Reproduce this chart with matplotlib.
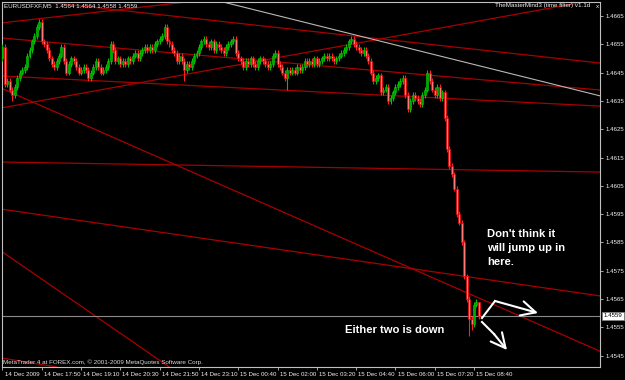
import numpy as np
import matplotlib.pyplot as plt
from matplotlib.patches import FancyArrowPatch
from matplotlib.transforms import ScaledTranslation, blended_transform_factory

# ---- data (EURUSD M5, 14-15 Dec 2009) ----
closes = [
    1.4654, 1.4641, 1.4642, 1.4639, 1.4637, 1.4640, 1.4643, 1.4645, 1.4646, 1.4647,
    1.4651, 1.4653, 1.4656, 1.4658, 1.4661, 1.4663, 1.4656, 1.4655, 1.4653, 1.4650,
    1.4648, 1.4647, 1.4649, 1.4651, 1.4654, 1.4649, 1.4645, 1.4648, 1.4650, 1.4649,
    1.4647, 1.4645, 1.4646, 1.4647, 1.4646, 1.4643, 1.4645, 1.4647, 1.4649, 1.4647,
    1.4645, 1.4646, 1.4647, 1.4649, 1.4655, 1.4653, 1.4649, 1.4650, 1.4648, 1.4649,
    1.4648, 1.4650, 1.4649, 1.4651, 1.4652, 1.4650, 1.4652, 1.4653, 1.4654, 1.4653,
    1.4654, 1.4653, 1.4655, 1.4656, 1.4657, 1.4658, 1.4661, 1.4656, 1.4655, 1.4653,
    1.4652, 1.4649, 1.4651, 1.4649, 1.4646, 1.4648, 1.4647, 1.4649, 1.4651, 1.4652,
    1.4654, 1.4656, 1.4657, 1.4655, 1.4654, 1.4656, 1.4653, 1.4655, 1.4654, 1.4653,
    1.4652, 1.4654, 1.4655, 1.4656, 1.4657, 1.4652, 1.4650, 1.4649, 1.4647, 1.4649,
    1.4648, 1.4650, 1.4648, 1.4647, 1.4649, 1.4650, 1.4649, 1.4648, 1.4647, 1.4648,
    1.4651, 1.4652, 1.4648, 1.4647, 1.4645, 1.4643, 1.4646, 1.4645, 1.4646, 1.4645,
    1.4647, 1.4646, 1.4647, 1.4649, 1.4648, 1.4649, 1.4648, 1.4650, 1.4648, 1.4649,
    1.4650, 1.4651, 1.4650, 1.4651, 1.4650, 1.4649, 1.4650, 1.4651, 1.4652, 1.4653,
    1.4654, 1.4656, 1.4657, 1.4655, 1.4654, 1.4653, 1.4652, 1.4653, 1.4651, 1.4649,
    1.4645, 1.4642, 1.4643, 1.4644, 1.4638, 1.4639, 1.4640, 1.4635, 1.4636, 1.4638,
    1.4640, 1.4641, 1.4642, 1.4643, 1.4637, 1.4632, 1.4635, 1.4637, 1.4636, 1.4635,
    1.4634, 1.4637, 1.4639, 1.4645, 1.4642, 1.4639, 1.4637, 1.4640, 1.4636, 1.4638,
    1.4629, 1.4618, 1.4612, 1.4609, 1.4604, 1.4595, 1.4592, 1.4585, 1.4573, 1.4565,
    1.4558, 1.4556, 1.4563, 1.4564, 1.4559,
]
first_open = 1.4650

# wick extremes that stand out on the chart (bar index -> price)
wick_hi = {15: 1.4664, 25: 1.4655, 66: 1.4662, 94: 1.4658, 142: 1.4658,
           173: 1.4646, 194: 1.4564}
wick_lo = {4: 1.4635, 74: 1.4642, 115: 1.4642, 116: 1.4639, 165: 1.4631,
           190: 1.4552, 191: 1.4554, 194: 1.4558}

last_price = 1.4559
price_ticks = [1.4665, 1.4655, 1.4645, 1.4635, 1.4625, 1.4615, 1.4605,
               1.4595, 1.4585, 1.4575, 1.4565, 1.4555, 1.4545]
time_ticks = [0, 16, 32, 48, 64, 80, 96, 112, 128, 144, 160, 176, 192]
time_labels = ['14 Dec 2009', '14 Dec 17:50', '14 Dec 19:10', '14 Dec 20:30',
               '14 Dec 21:50', '14 Dec 23:10', '15 Dec 00:40', '15 Dec 02:00',
               '15 Dec 03:20', '15 Dec 04:40', '15 Dec 06:00', '15 Dec 07:20',
               '15 Dec 08:40']

# trend lines as (bar, price, bar, price)
red_lines = [
    (0, 1.46326, 240, 1.46705),
    (0, 1.46626, 240, 1.46861),
    (0, 1.46393, 240, 1.45478),
    (0, 1.46572, 240, 1.46391),
    (0, 1.46438, 240, 1.46333),
    (0, 1.46716, 240, 1.46487),
    (0, 1.46134, 240, 1.46099),
    (0, 1.45967, 240, 1.45665),
    (0, 1.45816, 60, 1.45457),
    (0, 1.45441, 24, 1.45407),
]
gray_line = (103.0, 1.46671, 240, 1.46375)

# ---- figure ----
W, H = 625, 380
fig = plt.figure(figsize=(W / 100, H / 100), dpi=100, facecolor='black')
ax = fig.add_axes([2 / W, 13 / H, 598 / W, 365 / H], facecolor='black')

def fx(x):
    return x / W

def fy(y):
    return 1 - y / H

closes = np.array(closes)
n = len(closes)
idx = np.arange(n)
opens = np.concatenate([[first_open], closes[:-1]])
highs = np.maximum(opens, closes) + 0.0001
lows = np.minimum(opens, closes) - 0.0001
for k, v in wick_hi.items():
    highs[k] = v
for k, v in wick_lo.items():
    lows[k] = v

up = closes >= opens
wick_col = np.where(up, '#00c000', '#ff2020')
ax.vlines(idx, lows, highs, colors=wick_col, lw=0.8, zorder=3)

body_lo = np.minimum(opens, closes)
body_h = np.maximum(np.abs(closes - opens), 0.00003)
ax.bar(idx[up], body_h[up], bottom=body_lo[up], width=0.8,
       color='#00a800', edgecolor='#00d000', lw=0.4, zorder=4)
ax.bar(idx[~up], body_h[~up], bottom=body_lo[~up], width=0.8,
       color='#ff7878', edgecolor='#f00000', lw=0.5, zorder=4)

for x0, p0, x1, p1 in red_lines:
    ax.axline((x0, p0), (x1, p1), color='#a80000', lw=0.9, zorder=2)
ax.axline(gray_line[:2], gray_line[2:], color='#b8b8b8', lw=0.8, zorder=2)
ax.axhline(last_price, color='#8a8a8a', lw=0.8, zorder=2)

ax.set_xlim(-0.2, 243.3)
ax.set_ylim(1.454097, 1.466995)

for s in ax.spines.values():
    s.set_color('#c0c0c0')
    s.set_linewidth(0.8)

ax.yaxis.tick_right()
ax.set_yticks(price_ticks)
ax.set_yticklabels(['%.4f' % p for p in price_ticks])
ax.tick_params(axis='y', length=2.5, width=0.6, color='#c0c0c0',
               labelcolor='#f0f0f0', labelsize=4.4, pad=1.5)
ax.set_xticks(time_ticks)
ax.set_xticklabels(time_labels, ha='left')
ax.tick_params(axis='x', length=2.5, width=0.6, color='#c0c0c0',
               labelcolor='#f0f0f0', labelsize=4.4, pad=1.2)
for lbl in ax.get_xticklabels():
    lbl.set_transform(lbl.get_transform() + ScaledTranslation(1.5 / 72, 0, fig.dpi_scale_trans))
    lbl.set_fontfamily('Liberation Sans')
for lbl in ax.get_yticklabels():
    lbl.set_fontfamily('Liberation Sans')

# current price box
bt = blended_transform_factory(ax.transAxes, ax.transData)
ax.text(1.006, last_price, '%.4f' % last_price, transform=bt, ha='left', va='center',
        fontsize=4.4, family='Liberation Sans', color='black', clip_on=False,
        bbox=dict(boxstyle='square,pad=0.25', fc='white', ec='#808080', lw=0.5))

# header / footer texts
small = dict(family='Liberation Sans', fontsize=4.5, color='#f0f0f0', va='center')
fig.text(fx(4), fy(6), 'EURUSDFXF,M5  1.4564 1.4564 1.4558 1.4559', **small)
fig.text(fx(590), fy(6), 'TheMasterMind3 (time filter) v1.1d', ha='right', **small)
fig.text(fx(597), fy(6), 'x', ha='center', **small)
fig.text(fx(3), fy(362), 'MetaTrader 4 at FOREX.com, \u00a9 2001-2009 MetaQuotes Software Corp.',
         family='Liberation Sans', fontsize=4.5, color='#dcdcdc', va='center')

# annotations
note = dict(family='Liberation Sans', fontsize=8.1, fontweight='bold', color='white',
            va='baseline')
fig.text(fx(487), fy(237), "Don't think it", **note)
fig.text(fx(487), fy(251), 'will jump up in', **note)
fig.text(fx(487), fy(265), 'here.', **note)
fig.text(fx(345), fy(333), 'Either two is down', **note)

# white arrows
fig.add_artist(plt.Line2D([fx(482), fx(495)], [fy(318), fy(301)], color='white', lw=1.5))
fig.add_artist(plt.Line2D([fx(482), fx(494)], [fy(322), fy(334)], color='white', lw=1.5))
arr = dict(arrowstyle='->,head_length=0.7,head_width=0.35', color='white', lw=1.5,
           mutation_scale=15, shrinkA=0, shrinkB=0)
fig.add_artist(FancyArrowPatch((fx(495), fy(301)), (fx(538), fy(313)),
                               transform=fig.transFigure, **arr))
fig.add_artist(FancyArrowPatch((fx(494), fy(334)), (fx(507), fy(350)),
                               transform=fig.transFigure, **arr))

fig.savefig('out.png', dpi=100, facecolor='black')
